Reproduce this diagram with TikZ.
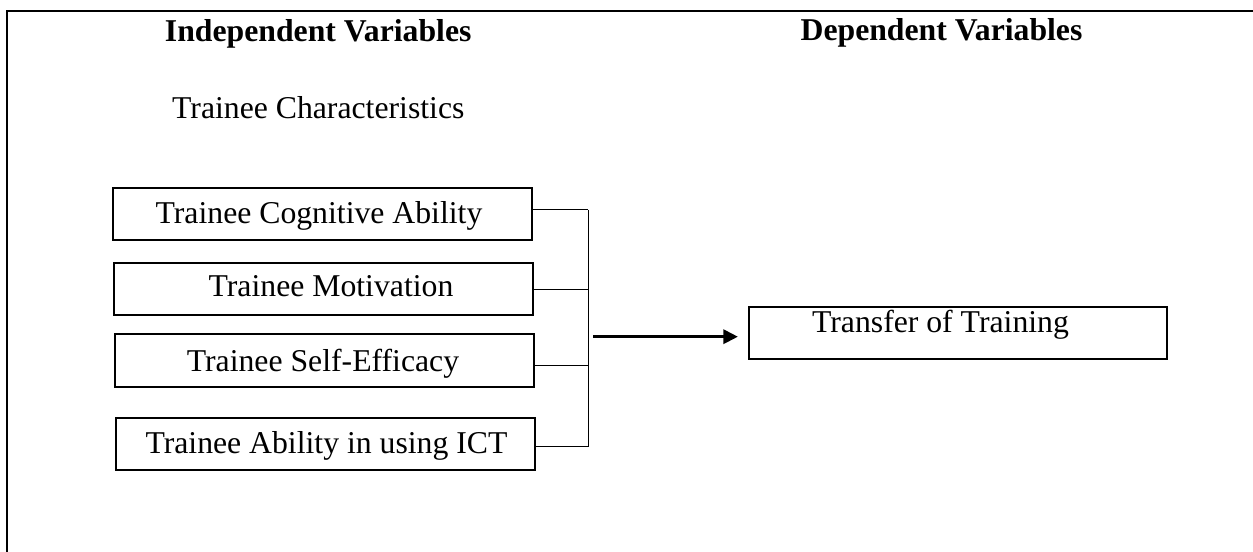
\documentclass[tikz,border=0pt]{standalone}
\usepackage{fontspec}
\setmainfont{Liberation Serif}
\usetikzlibrary{arrows.meta}

\tikzset{every picture/.style={line width=0.75pt}}
\tikzset{
    lbl/.style={font=\fontsize{23.8}{28}\selectfont, inner sep=0pt, anchor=base},
    head/.style={lbl, font=\fontsize{23.8}{28}\selectfont\bfseries},
    varbox/.style={draw, line width=1.5pt, inner sep=0pt, minimum width=419*0.75pt, minimum height=52.3*0.75pt},
    wire/.style={line width=0.75pt},
    flow/.style={line width=2.5pt, -{Triangle[length=11pt,width=10.5pt]}},
    frame/.style={line width=1.5pt}
}

\begin{document}
\begin{tikzpicture}[x=0.75pt,y=0.75pt,yscale=-1,xscale=1]
    \useasboundingbox (0,0) rectangle (1253,552);

    %Shape: Frame (open to the right and bottom)
    \draw [frame] (1253,10.7) -- (7,10.7) -- (7,552) ;

    % Text Node
    \node [head] (indep) at (318.2,41.3) {Independent Variables};
    % Text Node
    \node [head] (dep) at (941.5,40.5) {Dependent Variables};
    % Text Node
    \node [lbl] (chars) at (318.3,118.3) {Trainee Characteristics};

    %Shape: Rectangles
    \node [varbox] (cog) at (322.2,214.2) {};
    \node [varbox] (mot) at (323.5,288.8) {};
    \node [varbox] (eff) at (324.5,360.5) {};
    \node [varbox] (ict) at (325.5,443.8) {};
    \node [varbox, minimum width=418.3*0.75pt] (tot) at (958.2,332.85) {};

    % Text Node
    \node [lbl] (cogtxt) at (319,223.3) {Trainee Cognitive Ability};
    % Text Node
    \node [lbl] (mottxt) at (331,297) {Trainee Motivation};
    % Text Node
    \node [lbl] (efftxt) at (323,371.7) {Trainee Self-Efficacy};
    % Text Node
    \node [lbl] (icttxt) at (326.5,453) {Trainee Ability in using ICT};
    % Text Node
    \node [lbl] (tottxt) at (940.5,332) {Transfer of Training};

    %Straight Lines: joins on the bus
    \coordinate (j1) at (588,210);
    \coordinate (j2) at (588,289.3);
    \coordinate (j3) at (588,365.7);
    \coordinate (j4) at (588,446.7);
    \draw [wire] (cog.east |- j1) -- (j1) ;
    \draw [wire] (mot.east |- j2) -- (j2) ;
    \draw [wire] (eff.east |- j3) -- (j3) ;
    \draw [wire] (ict.east |- j4) -- (j4) ;
    \draw [wire] (j1) -- (j4) ;

    %Straight Lines [arrow]
    \coordinate (a0) at (593,336.7);
    \coordinate (a1) at (738,336.7);
    \draw [flow] (a0) -- (a1) ;

\end{tikzpicture}
\end{document}
